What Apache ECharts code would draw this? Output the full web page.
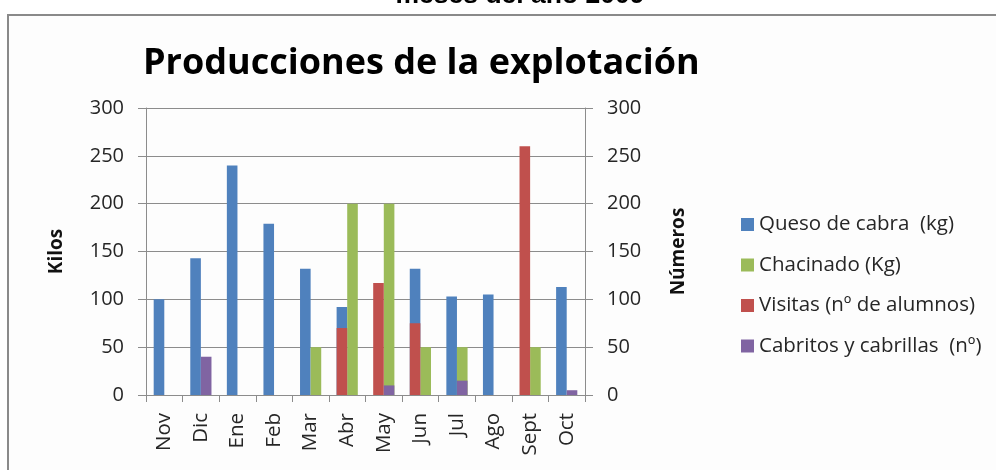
<!DOCTYPE html>
<html>
<head>
<meta charset="utf-8">
<script src="https://cdn.jsdelivr.net/npm/echarts@6/dist/echarts.min.js"></script>
<style>
html,body{margin:0;padding:0;background:#ffffff;}
#chart{width:996px;height:470px;}
</style>
</head>
<body>
<div id="chart"></div>
<script>
const months = ['Nov','Dic','Ene','Feb','Mar','Abr','May','Jun','Jul','Ago','Sept','Oct'];
const queso = [100,143,240,179,132,92,null,132,103,105,null,113];
const chacinado = [null,null,null,null,50,200,200,50,50,null,50,null];
const visitas = [null,null,null,null,null,70,117,75,null,null,260,null];
const cabritos = [null,40,null,null,null,null,10,null,15,null,null,5];
const yTicks = [0,50,100,150,200,250,300];
const seriesNames = ['Queso de cabra  (kg)','Chacinado (Kg)','Visitas (n\u00ba de alumnos)','Cabritos y cabrillas  (n\u00ba)'];
const colors = ['#4F81BD','#9BBB59','#C0504D','#8064A2'];

const FONT = '"Open Sans", sans-serif';
const chart = echarts.init(document.getElementById('chart'), null, {renderer:'canvas'});
const gridLine = '#8c8c8c';
const labelColor = '#262626';
const barW = 10.6;

const yAxisCommon = {
  type:'value', min:yTicks[0], max:yTicks[yTicks.length-1], interval:50,
  axisLine:{show:true, lineStyle:{color:gridLine, width:1}},
  axisTick:{show:true, length:8, lineStyle:{color:gridLine}},
  axisLabel:{color:labelColor, fontSize:20, fontFamily:FONT, margin:22},
  nameLocation:'middle', nameRotate:90,
  nameTextStyle:{fontFamily:FONT, fontWeight:'bold', fontSize:19, color:'#111'}
};

chart.setOption({
  animation:false,
  backgroundColor:'#ffffff',
  color:colors,
  graphic:[
    {type:'rect', z:-10, silent:true, shape:{x:8, y:15, width:1000, height:470},
     style:{fill:'#fdfdfd', stroke:'#8a8a8a', lineWidth:2}},
    {type:'text', z:5, x:520, y:-4.5,
     style:{text:'meses del a\u00f1o 2009', fontFamily:'"Liberation Sans", Arial, sans-serif', fontWeight:'bold', fontSize:26.5, fill:'#000', align:'center', verticalAlign:'middle'}}
  ],
  title:{
    text:'Producciones de la explotaci\u00f3n',
    left:138, top:41,
    textStyle:{fontFamily:FONT, fontWeight:'bold', fontSize:36, color:'#000'}
  },
  legend:{
    orient:'vertical', left:736, top:209,
    itemWidth:13, itemHeight:13, itemGap:19.5,
    icon:'rect',
    textStyle:{fontFamily:FONT, fontSize:20.5, color:labelColor, lineHeight:20},
    data:seriesNames
  },
  grid:{left:146, right:411, top:108, bottom:75, containLabel:false},
  xAxis:[
    {type:'category', data:months, gridIndex:0,
     axisLine:{show:true, lineStyle:{color:gridLine}},
     axisTick:{show:true, length:7, lineStyle:{color:gridLine}},
     axisLabel:{rotate:90, color:labelColor, fontSize:20.5, fontFamily:FONT, margin:18, interval:0}},
    {type:'category', data:months, gridIndex:0, show:false}
  ],
  yAxis:[
    Object.assign({}, yAxisCommon, {position:'left', name:'Kilos', nameGap:80,
      splitLine:{show:true, lineStyle:{color:gridLine, width:1}}}),
    Object.assign({}, yAxisCommon, {position:'right', name:'N\u00fameros', nameGap:84,
      splitLine:{show:false}})
  ],
  series:[
    {name:seriesNames[0], type:'bar', xAxisIndex:0, yAxisIndex:0, data:queso, barWidth:barW, barGap:'0%', z:2},
    {name:seriesNames[1], type:'bar', xAxisIndex:0, yAxisIndex:0, data:chacinado, barWidth:barW, barGap:'0%', z:2},
    {name:seriesNames[2], type:'bar', xAxisIndex:1, yAxisIndex:1, data:visitas, barWidth:barW, barGap:'0%', z:3},
    {name:seriesNames[3], type:'bar', xAxisIndex:1, yAxisIndex:1, data:cabritos, barWidth:barW, barGap:'0%', z:3}
  ]
});
</script>
</body>
</html>
